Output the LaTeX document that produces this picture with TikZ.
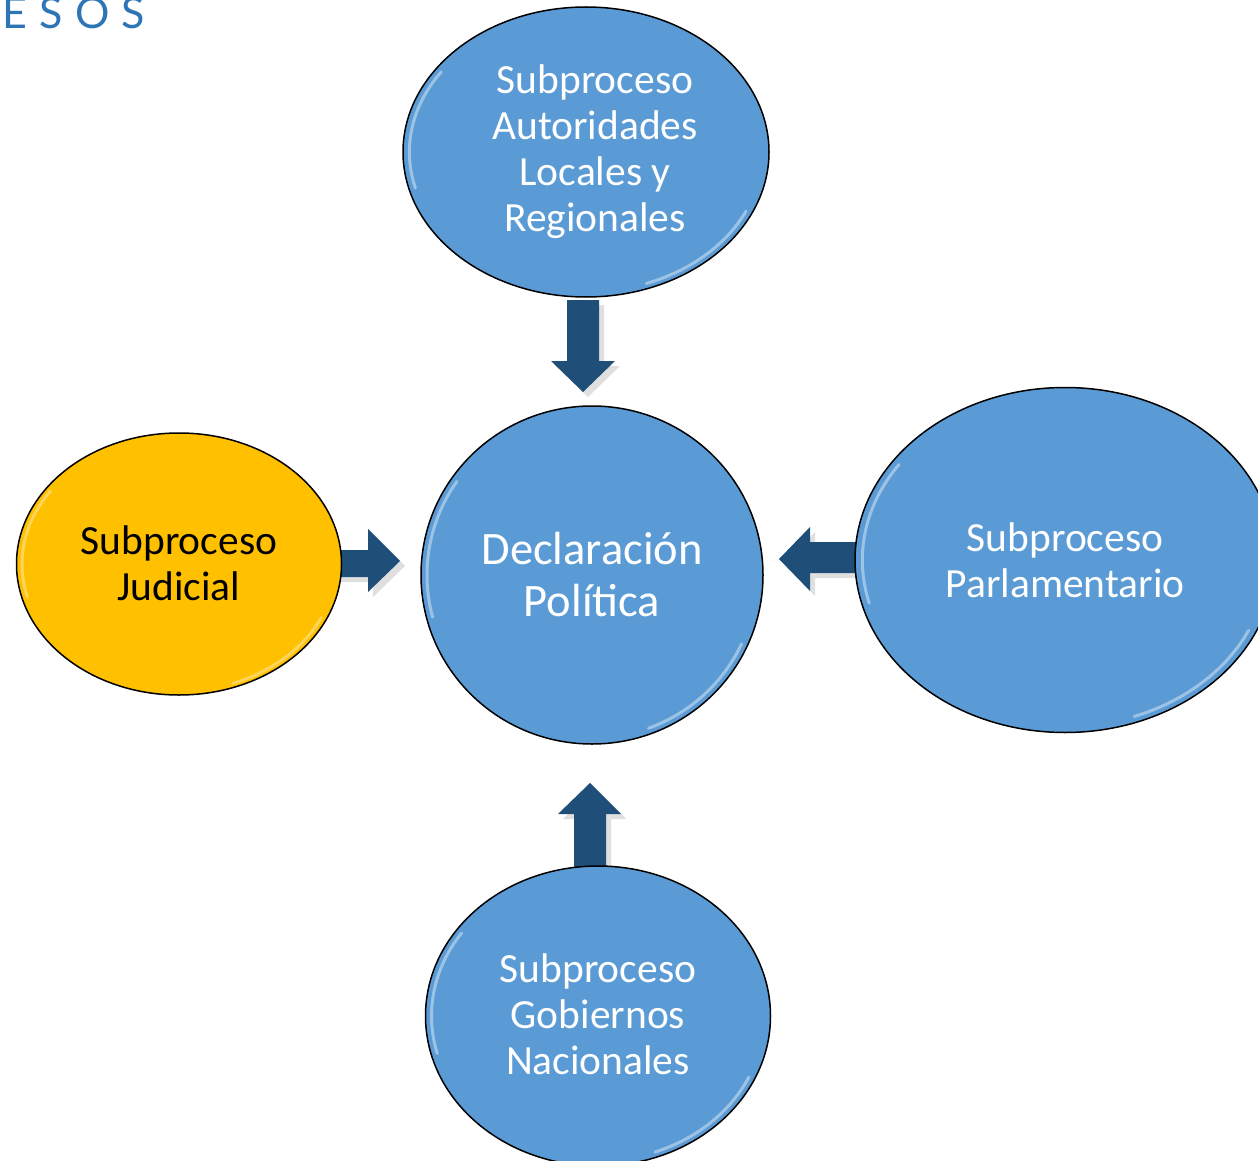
\documentclass[tikz,border=0pt]{standalone}
\usepackage{fontspec}
\setmainfont{Carlito}
\newfontfamily\titlefont[LetterSpace=28]{Lato}
\usetikzlibrary{shapes.geometric,shadows}
\definecolor{bub}{HTML}{5B9BD5}
\definecolor{yel}{HTML}{FFC000}
\definecolor{arr}{HTML}{1F4E79}
\definecolor{ttl}{HTML}{2E75B6}
\tikzset{
  bubble/.style={ellipse, draw=black, line width=1.5pt, fill=bub, text=white,
    align=center, inner sep=0pt, font=\fontsize{41.5}{46}\selectfont},
  yelbubble/.style={bubble, fill=yel, text=black},
  blockarrow/.style={fill=arr, draw=none,
    drop shadow={opacity=0.25, shadow xshift=5pt, shadow yshift=-5pt}},
  gloss/.style={white, opacity=0.4, line width=3pt, line cap=round}
}
\newcommand{\glossy}[4]{% cx cy rx ry
  \draw[gloss] (#1,#2) ++(165:{0.965*#3} and {0.965*#4})
     arc[start angle=165, end angle=215, x radius={0.965*#3}, y radius={0.965*#4}];
  \draw[gloss] (#1,#2) ++(25:{0.965*#3} and {0.965*#4})
     arc[start angle=25, end angle=70, x radius={0.965*#3}, y radius={0.965*#4}];
}
\begin{document}
\begin{tikzpicture}[x=1pt,y=-1pt]
\useasboundingbox (0,0) rectangle (1258,1161);
\clip (0,0) rectangle (1258,1161);

% title fragment
\node[anchor=base west, inner sep=0pt, text=ttl, font=\titlefont\fontsize{43}{43}\selectfont] (title) at (-38,29) {CESOS};

% block arrows (drawn first, bubbles on top)
\path[blockarrow] (567,300) -- (599,300) -- (599,361) -- (615,361) -- (583,392)
  -- (551,361) -- (567,361) -- cycle;
\path[blockarrow] (335,550) -- (368,550) -- (368,529) -- (400,561) -- (368,592)
  -- (368,577) -- (335,577) -- cycle;
\path[blockarrow] (862,542) -- (810,542) -- (810,527) -- (779,559) -- (810,591)
  -- (810,573) -- (862,573) -- cycle;
\path[blockarrow] (574,872) -- (574,814) -- (558,814) -- (590,783) -- (621,814)
  -- (606,814) -- (606,872) -- cycle;

% bubbles
\node[bubble, minimum width=366pt, minimum height=290pt] (top) at (586,152) {};
\node[font=\fontsize{41.5}{46}\selectfont, text=white, align=center] (toptext) at (595,152)
  {Subproceso\\Autoridades\\Locales y\\Regionales};
\node[bubble, minimum width=342pt, minimum height=338pt, font=\fontsize{46.5}{52}\selectfont] (center) at (592,575)
  {Declaración\\Política};
\node[yelbubble, minimum width=325pt, minimum height=262pt] (left) at (179,564) {};
\node[font=\fontsize{41.5}{46}\selectfont, text=black, align=center] (lefttext) at (179,563)
  {Subproceso\\Judicial};
\node[bubble, minimum width=420pt, minimum height=345pt] (right) at (1065,560)
  {Subproceso\\Parlamentario};
\node[bubble, minimum width=345pt, minimum height=300pt] (bottom) at (598,1016) {};
\node[font=\fontsize{41.5}{46}\selectfont, text=white, align=center] (bottomtext) at (598,1014)
  {Subproceso\\Gobiernos\\Nacionales};

\glossy{586}{152}{183}{145}
\glossy{592}{575}{171}{169}
\glossy{1065}{560}{210}{172.5}
\glossy{598}{1016}{172.5}{150}
\draw[white, opacity=0.35, line width=3pt, line cap=round] (179,564) ++(165:157 and 127)
  arc[start angle=165, end angle=215, x radius=157, y radius=127];
\draw[white, opacity=0.35, line width=3pt, line cap=round] (179,564) ++(25:157 and 127)
  arc[start angle=25, end angle=70, x radius=157, y radius=127];
\end{tikzpicture}
\end{document}
